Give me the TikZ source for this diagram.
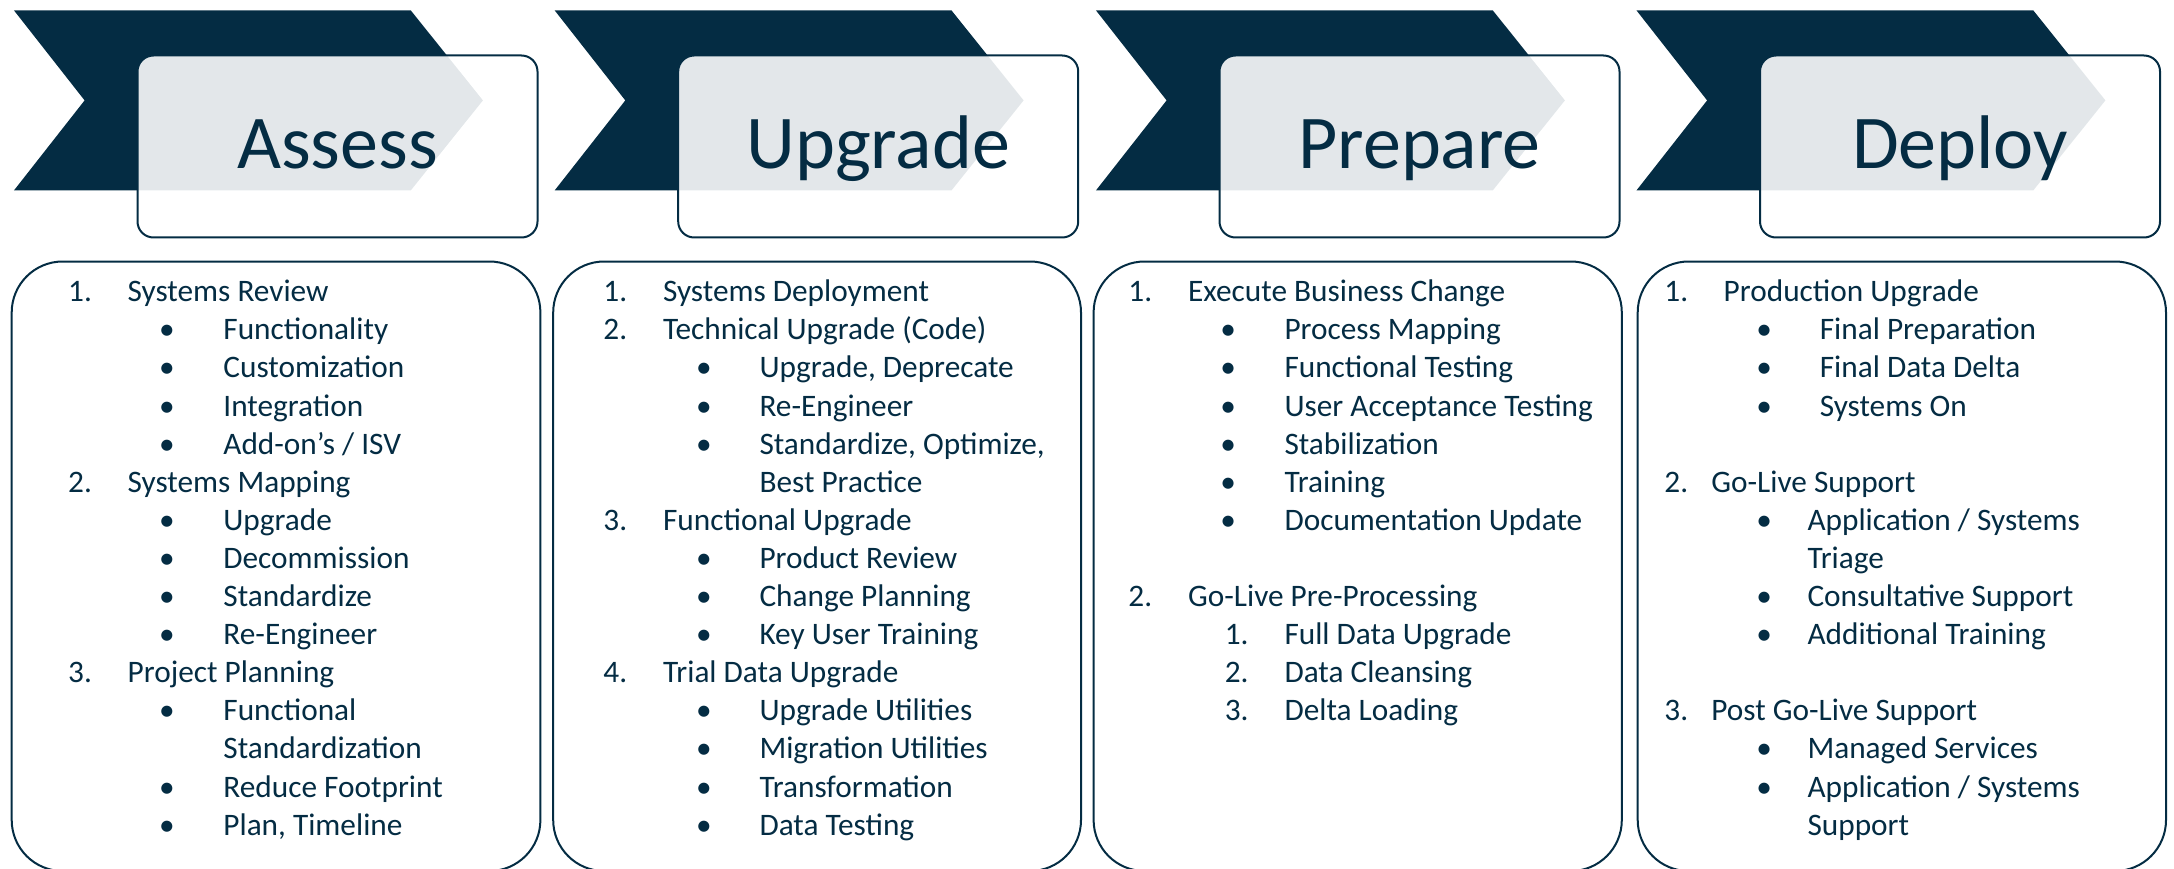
\documentclass[tikz,border=0pt]{standalone}
\usepackage{fontspec}
\setmainfont{Carlito}
\definecolor{navy}{RGB}{4,44,67}

\newcounter{txt}
% one line of text in a list: #1 = left x, #2 = row, #3 = text
\newcommand{\itm}[3]{\stepcounter{txt}%
  \node[item] (t\thetxt) at (#1,{301.7+38.1*#2}) {#3};}
% a bullet centred on x = #1 in row #2
\newcommand{\bul}[2]{\stepcounter{txt}%
  \node[dot] (b\thetxt) at (#1,{301.7+38.1*#2}) {\textbullet};}
% chevron, header card and title of one phase: #1 = x shift, #2 = name, #3 = title
\newcommand{\phasehead}[3]{%
  \fill[chev] ({13.9+#1},10.3) -- ({410.7+#1},10.3) -- ({482.9+#1},100.4) -- ({410.7+#1},190.5)
     -- ({13.9+#1},190.5) -- ({84.6+#1},100.4) -- cycle;
  \path[hdrbox] ({137.5+#1},55.5) rectangle ({537.5+#1},237.5);
  \node[title] (#2) at ({337.5+#1},168.3) {#3};}

\tikzset{
  chev/.style={fill=navy},
  hdrbox/.style={fill=white, fill opacity=0.89, draw=navy, draw opacity=1,
                 line width=2pt, rounded corners=16pt},
  bodybox/.style={draw=navy, line width=2pt, rounded corners=51pt},
  title/.style={anchor=base, inner sep=0pt, text=navy,
                font=\fontsize{76}{90}\selectfont},
  item/.style={anchor=base west, inner sep=0pt, text=navy,
               font=\fontsize{31.3}{38}\selectfont},
  dot/.style={anchor=base, inner sep=0pt, text=navy,
              font=\fontsize{31.3}{38}\selectfont},
}

\begin{document}
\begin{tikzpicture}[x=1pt,y=-1pt]
\useasboundingbox (0,0) rectangle (2174,869);

% ---- headers ----
\phasehead{0}{assess}{Assess}
\phasehead{540.7}{upgrade}{Upgrade}
\phasehead{1082}{prepare}{Prepare}
\phasehead{1622.5}{deploy}{Deploy}

% ---- body cards ----
\draw[bodybox] (11.7,261.5) rectangle (540.4,871);
\draw[bodybox] (553.2,261.5) rectangle (1081,871);
\draw[bodybox] (1093.6,261.5) rectangle (1621.8,871);
\draw[bodybox] (1637.7,261.5) rectangle (2166,871);

% ---- Assess ----
\itm{68}{0}{1.}\itm{127.5}{0}{Systems Review}
\bul{166.8}{1}\itm{223.2}{1}{Functionality}
\bul{166.8}{2}\itm{223.2}{2}{Customization}
\bul{166.8}{3}\itm{223.2}{3}{Integration}
\bul{166.8}{4}\itm{223.2}{4}{Add-on’s / ISV}
\itm{68}{5}{2.}\itm{127.5}{5}{Systems Mapping}
\bul{166.8}{6}\itm{223.2}{6}{Upgrade}
\bul{166.8}{7}\itm{223.2}{7}{Decommission}
\bul{166.8}{8}\itm{223.2}{8}{Standardize}
\bul{166.8}{9}\itm{223.2}{9}{Re-Engineer}
\itm{68}{10}{3.}\itm{127.5}{10}{Project Planning}
\bul{166.8}{11}\itm{223.2}{11}{Functional}
\itm{223.2}{12}{Standardization}
\bul{166.8}{13}\itm{223.2}{13}{Reduce Footprint}
\bul{166.8}{14}\itm{223.2}{14}{Plan, Timeline}

% ---- Upgrade ----
\itm{603.2}{0}{1.}\itm{662.9}{0}{Systems Deployment}
\itm{603.2}{1}{2.}\itm{662.9}{1}{Technical Upgrade (Code)}
\bul{703.9}{2}\itm{759.3}{2}{Upgrade, Deprecate}
\bul{703.9}{3}\itm{759.3}{3}{Re-Engineer}
\bul{703.9}{4}\itm{759.3}{4}{Standardize, Optimize,}
\itm{759.3}{5}{Best Practice}
\itm{603.2}{6}{3.}\itm{662.9}{6}{Functional Upgrade}
\bul{703.9}{7}\itm{759.3}{7}{Product Review}
\bul{703.9}{8}\itm{759.3}{8}{Change Planning}
\bul{703.9}{9}\itm{759.3}{9}{Key User Training}
\itm{603.2}{10}{4.}\itm{662.9}{10}{Trial Data Upgrade}
\bul{703.9}{11}\itm{759.3}{11}{Upgrade Utilities}
\bul{703.9}{12}\itm{759.3}{12}{Migration Utilities}
\bul{703.9}{13}\itm{759.3}{13}{Transformation}
\bul{703.9}{14}\itm{759.3}{14}{Data Testing}

% ---- Prepare ----
\itm{1128.2}{0}{1.}\itm{1187.9}{0}{Execute Business Change}
\bul{1228.2}{1}\itm{1284.3}{1}{Process Mapping}
\bul{1228.2}{2}\itm{1284.3}{2}{Functional Testing}
\bul{1228.2}{3}\itm{1284.3}{3}{User Acceptance Testing}
\bul{1228.2}{4}\itm{1284.3}{4}{Stabilization}
\bul{1228.2}{5}\itm{1284.3}{5}{Training}
\bul{1228.2}{6}\itm{1284.3}{6}{Documentation Update}
\itm{1128.2}{8}{2.}\itm{1187.9}{8}{Go-Live Pre-Processing}
\itm{1224.6}{9}{1.}\itm{1284.3}{9}{Full Data Upgrade}
\itm{1224.6}{10}{2.}\itm{1284.3}{10}{Data Cleansing}
\itm{1224.6}{11}{3.}\itm{1284.3}{11}{Delta Loading}

% ---- Deploy ----
\itm{1664.2}{0}{1.}\itm{1723.5}{0}{Production Upgrade}
\bul{1764.2}{1}\itm{1819.6}{1}{Final Preparation}
\bul{1764.2}{2}\itm{1819.6}{2}{Final Data Delta}
\bul{1764.2}{3}\itm{1819.6}{3}{Systems On}
\itm{1664.2}{5}{2.}\itm{1711.2}{5}{Go-Live Support}
\bul{1764.2}{6}\itm{1807.3}{6}{Application / Systems}
\itm{1807.3}{7}{Triage}
\bul{1764.2}{8}\itm{1807.3}{8}{Consultative Support}
\bul{1764.2}{9}\itm{1807.3}{9}{Additional Training}
\itm{1664.2}{11}{3.}\itm{1711.2}{11}{Post Go-Live Support}
\bul{1764.2}{12}\itm{1807.3}{12}{Managed Services}
\bul{1764.2}{13}\itm{1807.3}{13}{Application / Systems}
\itm{1807.3}{14}{Support}
\end{tikzpicture}
\end{document}
